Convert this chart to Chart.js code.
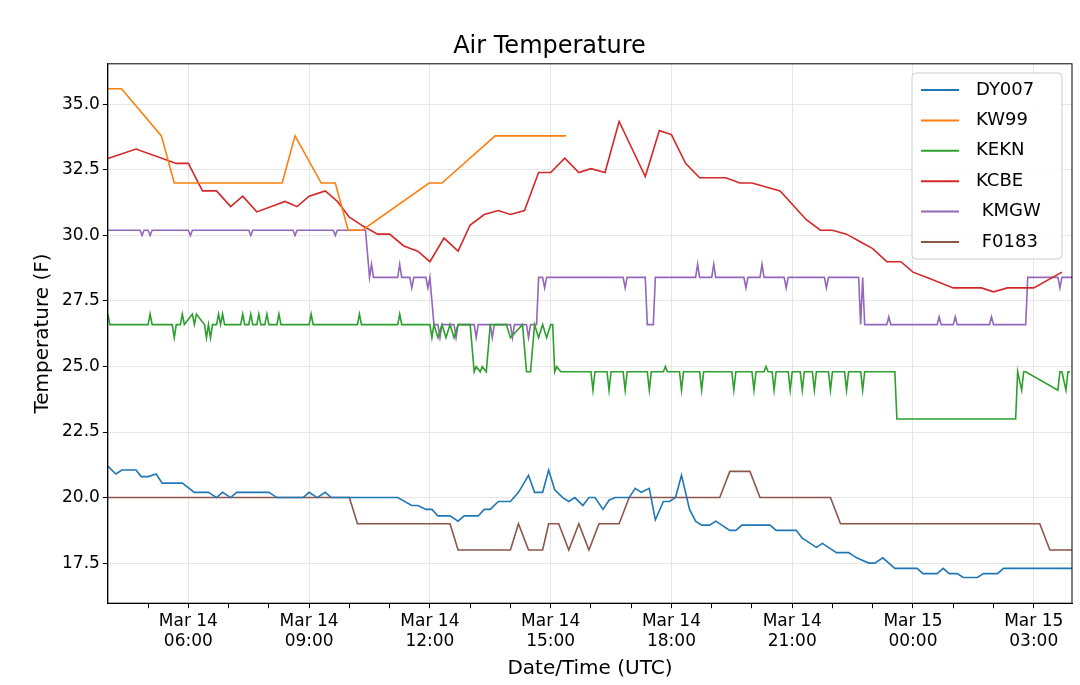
<!DOCTYPE html>
<html>
<head>
<meta charset="utf-8">
<script src="https://cdn.jsdelivr.net/npm/chart.js@4/dist/chart.umd.min.js"></script>
<style>
  html, body { margin: 0; padding: 0; background: #fff; }
  #wrap { width: 1080px; height: 685px; }
</style>
</head>
<body>
<div id="wrap"><canvas id="c"></canvas></div>
<script>
// hours since Mar 14 00:00 UTC
const dyHours = [4.0,4.2,4.35,4.7,4.83,5.0,5.2,5.35,5.85,6.15,6.5,6.7,6.85,7.05,7.2,8.0,8.2,8.85,9.0,9.2,9.4,9.55,11.2,11.55,11.7,11.9,12.05,12.2,12.5,12.7,12.85,13.2,13.35,13.5,13.7,14.0,14.2,14.45,14.6,14.8,14.95,15.1,15.3,15.45,15.6,15.8,15.95,16.1,16.3,16.45,16.6,16.95,17.1,17.25,17.45,17.6,17.8,17.95,18.1,18.25,18.45,18.6,18.75,18.95,19.1,19.45,19.6,19.75,20.45,20.6,21.1,21.25,21.6,21.75,22.1,22.4,22.6,22.9,23.05,23.25,23.55,24.1,24.25,24.6,24.75,24.9,25.1,25.25,25.6,25.75,26.1,26.25,27.95];
const dyTemps = [21.2,20.9,21.05,21.05,20.8,20.8,20.9,20.55,20.55,20.2,20.2,20.0,20.2,20.0,20.2,20.2,20.0,20.0,20.2,20.0,20.2,20.0,20.0,19.7,19.7,19.55,19.55,19.3,19.3,19.1,19.3,19.3,19.55,19.55,19.85,19.85,20.2,20.85,20.2,20.2,21.05,20.3,20.0,19.85,20.0,19.7,20.0,20.0,19.55,19.9,20.0,20.0,20.35,20.2,20.35,19.15,19.85,19.85,20.0,20.85,19.55,19.1,18.95,18.95,19.1,18.75,18.75,18.95,18.95,18.75,18.75,18.45,18.1,18.25,17.9,17.9,17.7,17.5,17.5,17.7,17.3,17.3,17.1,17.1,17.3,17.1,17.1,16.95,16.95,17.1,17.1,17.3,17.3];

const kw99Hours = [4.0,4.34,5.33,5.65,8.33,8.65,9.3,9.65,9.97,10.32,11.98,12.3,13.62,15.38];
const kw99Temps = [35.6,35.6,33.8,32.0,32.0,33.8,32.0,32.0,30.2,30.2,32.0,32.0,33.8,33.8];

const keknHours = [4.0,4.05,4.1,5.0,5.05,5.1,5.6,5.65,5.7,5.8,5.85,5.9,6.1,6.15,6.2,6.4,6.45,6.5,6.55,6.6,6.7,6.75,6.8,6.85,6.9,7.0,7.3,7.35,7.4,7.5,7.55,7.6,7.7,7.75,7.8,7.9,7.95,8.0,8.2,8.25,8.3,9.0,9.05,9.1,10.2,10.25,10.3,11.2,11.25,11.3,12.0,12.05,12.1,12.2,12.3,12.4,12.5,12.6,12.7,13.0,13.1,13.15,13.25,13.3,13.4,13.5,13.6,13.9,14.0,14.3,14.4,14.5,14.6,14.7,14.8,14.9,15.0,15.05,15.1,15.15,15.25,15.3,15.6,16.0,16.05,16.1,16.4,16.45,16.5,16.8,16.85,16.9,17.4,17.45,17.5,17.8,17.85,17.9,18.2,18.25,18.3,18.7,18.75,18.8,19.5,19.55,19.6,20.0,20.05,20.1,20.3,20.35,20.4,20.5,20.55,20.6,20.9,20.95,21.0,21.2,21.25,21.3,21.5,21.55,21.6,21.9,21.95,22.0,22.3,22.35,22.4,22.7,22.75,22.8,23.55,23.6,26.55,26.6,26.7,26.75,26.8,27.6,27.65,27.7,27.8,27.85,27.9];
const keknTemps = [27.0,26.6,26.6,26.6,27.0,26.6,26.6,26.1,26.6,26.6,27.0,26.6,27.0,26.6,27.0,26.6,26.1,26.6,26.1,26.6,26.6,27.0,26.6,27.0,26.6,26.6,26.6,27.0,26.6,26.6,27.0,26.6,26.6,27.0,26.6,26.6,27.0,26.6,26.6,27.0,26.6,26.6,27.0,26.6,26.6,27.0,26.6,26.6,27.0,26.6,26.6,26.1,26.6,26.1,26.6,26.1,26.6,26.1,26.6,26.6,24.8,25.0,24.8,25.0,24.8,26.6,26.6,26.6,26.1,26.6,24.8,24.8,26.6,26.1,26.6,26.1,26.6,26.6,24.8,25.0,24.8,24.8,24.8,24.8,24.1,24.8,24.8,24.1,24.8,24.8,24.1,24.8,24.8,24.1,24.8,24.8,25.0,24.8,24.8,24.1,24.8,24.8,24.1,24.8,24.8,24.1,24.8,24.8,24.1,24.8,24.8,25.0,24.8,24.8,24.1,24.8,24.8,24.1,24.8,24.8,24.1,24.8,24.8,24.1,24.8,24.8,24.1,24.8,24.8,24.1,24.8,24.8,24.1,24.8,24.8,23.0,23.0,24.8,24.1,24.8,24.8,24.1,24.8,24.8,24.1,24.8,24.8];

const kcbeHours = [4.0,4.7,5.7,6.0,6.35,6.7,7.05,7.35,7.7,8.4,8.7,9.0,9.4,9.7,10.0,10.35,10.7,11.0,11.35,11.7,12.0,12.35,12.7,13.0,13.35,13.7,14.0,14.35,14.7,15.0,15.35,15.7,16.0,16.35,16.7,17.35,17.7,18.0,18.35,18.7,19.35,19.7,20.0,20.7,21.35,21.7,22.0,22.35,22.7,23.0,23.35,23.7,24.0,24.35,25.0,25.7,26.0,26.35,27.0,27.7];
const kcbeTemps = [32.94,33.3,32.75,32.75,31.7,31.7,31.1,31.5,30.9,31.3,31.1,31.5,31.7,31.3,30.7,30.35,30.05,30.05,29.6,29.4,29.0,29.9,29.4,30.4,30.8,30.95,30.8,30.95,32.4,32.4,32.95,32.4,32.55,32.4,34.35,32.25,34.0,33.85,32.75,32.2,32.2,32.0,32.0,31.7,30.6,30.2,30.2,30.05,29.75,29.5,29.0,29.0,28.6,28.4,28.0,28.0,27.85,28.0,28.0,28.6];

const kmgwHours = [4.0,4.8,4.85,4.9,5.0,5.05,5.1,6.0,6.05,6.1,7.5,7.55,7.6,8.6,8.65,8.7,9.6,9.65,9.7,10.4,10.5,10.55,10.6,11.2,11.25,11.3,11.5,11.55,11.6,11.9,11.95,12.0,12.1,12.2,12.25,12.3,12.6,12.65,12.7,13.1,13.15,13.2,13.5,13.55,13.6,14.0,14.05,14.1,14.4,14.45,14.5,14.65,14.7,14.8,14.85,14.9,16.8,16.85,16.9,17.35,17.4,17.55,17.6,17.7,18.6,18.65,18.7,19.0,19.05,19.1,19.8,19.85,19.9,20.2,20.25,20.3,20.8,20.85,20.9,21.8,21.85,21.9,22.65,22.7,22.75,22.8,22.9,23.35,23.4,23.45,24.6,24.65,24.7,25.0,25.05,25.1,25.9,25.95,26.0,26.8,26.85,27.6,27.65,27.7,27.95];
const kmgwTemps = [30.2,30.2,30.0,30.2,30.2,30.0,30.2,30.2,30.0,30.2,30.2,30.0,30.2,30.2,30.0,30.2,30.2,30.0,30.2,30.2,28.4,28.9,28.4,28.4,28.9,28.4,28.4,28.0,28.4,28.4,28.0,28.4,26.6,26.6,26.1,26.6,26.6,26.1,26.6,26.6,26.1,26.6,26.6,26.1,26.6,26.6,26.1,26.6,26.6,26.1,26.6,26.6,28.4,28.4,28.0,28.4,28.4,28.0,28.4,28.4,26.6,26.6,28.4,28.4,28.4,28.9,28.4,28.4,28.9,28.4,28.4,28.0,28.4,28.4,28.9,28.4,28.4,28.0,28.4,28.4,28.0,28.4,28.4,26.6,28.4,26.6,26.6,26.6,26.9,26.6,26.6,26.9,26.6,26.6,26.9,26.6,26.6,26.9,26.6,26.6,28.4,28.4,28.0,28.4,28.4];

const f0183Hours = [4.0,10.0,10.2,12.5,12.7,14.0,14.2,14.45,14.8,14.95,15.2,15.45,15.7,15.95,16.2,16.7,16.95,19.2,19.45,19.95,20.2,21.95,22.2,27.15,27.4,27.95];
const f0183Temps = [20.0,20.0,19.0,19.0,18.0,18.0,19.0,18.0,18.0,19.0,19.0,18.0,19.0,18.0,19.0,19.0,20.0,20.0,21.0,21.0,20.0,20.0,19.0,19.0,18.0,18.0];

const seriesNames = ['DY007', 'KW99', 'KEKN', 'KCBE', ' KMGW', ' F0183'];
const seriesColors = ['#1f77b4', '#ff7f0e', '#2ca02c', '#d62728', '#9467bd', '#8c564b'];
const seriesHours = [dyHours, kw99Hours, keknHours, kcbeHours, kmgwHours, f0183Hours];
const seriesTemps = [dyTemps, kw99Temps, keknTemps, kcbeTemps, kmgwTemps, f0183Temps];

const FONT = '"DejaVu Sans", sans-serif';

// legend box + plot frame, drawn matplotlib-style
const framePlugin = {
    id: 'frame',
    afterDraw(chart) {
        const { ctx, chartArea: a } = chart;
        ctx.save();
        ctx.strokeStyle = '#000';
        ctx.lineWidth = 1;
        ctx.strokeRect(a.left, a.top, a.right - a.left, a.bottom - a.top);

        const x0 = 912, y0 = 73, w = 150, h = 186;
        ctx.fillStyle = 'rgba(255,255,255,0.85)';
        ctx.strokeStyle = '#ccc';
        ctx.beginPath();
        ctx.roundRect(x0, y0, w, h, 4);
        ctx.fill();
        ctx.stroke();
        ctx.font = '18px ' + FONT;
        ctx.textBaseline = 'middle';
        seriesNames.forEach((n, i) => {
            const y = y0 + 17 + i * 30.4;
            ctx.strokeStyle = seriesColors[i];
            ctx.lineWidth = 2;
            ctx.beginPath();
            ctx.moveTo(x0 + 9, y);
            ctx.lineTo(x0 + 47, y);
            ctx.stroke();
            ctx.fillStyle = '#000';
            ctx.fillText(n, x0 + 64, y);
        });
        ctx.restore();
    },
};

new Chart(document.getElementById('c'), {
    type: 'line',
    data: {
        datasets: seriesNames.map((n, i) => ({
            label: n,
            data: seriesHours[i].map((h, j) => ({ x: h, y: seriesTemps[i][j] })),
            borderColor: seriesColors[i],
            borderWidth: 1.6,
            pointRadius: 0,
            tension: 0,
        })),
    },
    options: {
        responsive: true,
        maintainAspectRatio: false,
        animation: false,
        layout: { padding: { left: 27, right: 8, top: 4, bottom: 0 } },
        plugins: {
            legend: { display: false },
            tooltip: { enabled: false },
            title: {
                display: true,
                text: 'Air Temperature',
                color: '#000',
                font: { family: FONT, size: 24, weight: 'normal' },
                padding: { top: 28, bottom: 3 },
            },
        },
        scales: {
            x: {
                type: 'linear',
                min: 4.0,
                max: 27.95,
                afterBuildTicks: axis => {
                    const t = [];
                    for (let h = 5; h <= 27; h++) t.push({ value: h });
                    axis.ticks = t;
                },
                ticks: {
                    autoSkip: false,
                    maxRotation: 0,
                    color: '#000',
                    font: { family: FONT, size: 17 },
                    callback: v => {
                        if (v % 3 !== 0) return '';
                        const day = v >= 24 ? 15 : 14;
                        const hh = String(v % 24).padStart(2, '0');
                        return ['Mar ' + day, hh + ':00'];
                    },
                },
                grid: {
                    color: ctx => (ctx.tick && ctx.tick.value % 3 === 0) ? '#e6e6e6' : 'transparent',
                    tickColor: '#000',
                    tickLength: 5,
                },
                border: { color: '#000' },
                title: {
                    display: true,
                    text: 'Date/Time (UTC)',
                    color: '#000',
                    font: { family: FONT, size: 20 },
                    padding: { top: 2 },
                },
            },
            y: {
                min: 15.97,
                max: 36.55,
                afterBuildTicks: axis => {
                    axis.ticks = [17.5, 20, 22.5, 25, 27.5, 30, 32.5, 35].map(v => ({ value: v }));
                },
                ticks: {
                    color: '#000',
                    font: { family: FONT, size: 17 },
                    callback: v => v.toFixed(1),
                },
                grid: { color: '#e6e6e6', tickColor: '#000', tickLength: 5 },
                border: { color: '#000' },
                title: {
                    display: true,
                    text: 'Temperature (F)',
                    color: '#000',
                    font: { family: FONT, size: 20 },
                },
            },
        },
    },
    plugins: [framePlugin],
});
</script>
</body>
</html>
